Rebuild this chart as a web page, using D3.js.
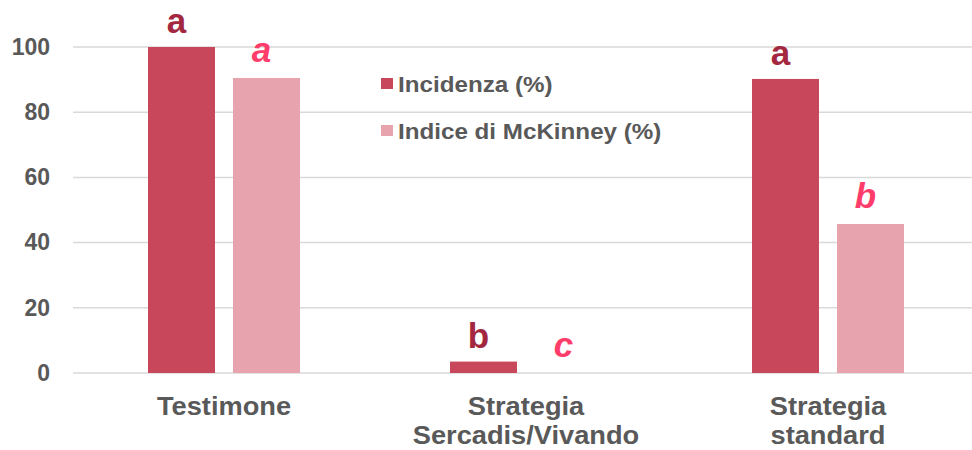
<!DOCTYPE html>
<html>
<head>
<meta charset="utf-8">
<script src="https://cdn.jsdelivr.net/npm/d3@7"></script>
<style>
  html, body { margin: 0; padding: 0; background: #fff; }
  svg { display: block; font-family: "Liberation Sans", Arial, sans-serif; }
</style>
</head>
<body>
<svg id="chart" width="972" height="450"></svg>
<script>
const categories = [["Testimone"], ["Strategia", "Sercadis/Vivando"], ["Strategia", "standard"]];
const categoryKeys = ["Testimone", "Strategia Sercadis/Vivando", "Strategia standard"];
const seriesNames = ["Incidenza (%)", "Indice di McKinney (%)"];
const incidenza = [100, 3.5, 90.2];
const mckinney = [90.5, 0, 45.7];
const lettersIncidenza = ["a", "b", "a"];
const lettersMckinney = ["a", "c", "b"];
const yTicks = [0, 20, 40, 60, 80, 100];

const barColors = ["#c9475a", "#e8a4ae"];
const letterColors = ["#a3283f", "#ff3d6a"];
const textGrey = "#595959";

const svg = d3.select("#chart");
const W = 972, H = 450;
const plot = { left: 73, right: 979, top: 47, bottom: 373 };

const y = d3.scaleLinear().domain([0, 100]).range([plot.bottom, plot.top]);
const x0 = d3.scaleBand().domain(categoryKeys).range([plot.left, plot.right]).padding(0);
const groupW = 152;
const x1 = d3.scaleBand().domain(seriesNames).range([0, groupW]).paddingInner(0.212).paddingOuter(0);

// gridlines
svg.append("g").selectAll("line").data(yTicks).join("line")
  .attr("x1", plot.left).attr("x2", W)
  .attr("y1", d => y(d)).attr("y2", d => y(d))
  .attr("stroke", "#d9d9d9").attr("stroke-width", 1.5);

// y axis labels
const yAxis = d3.axisLeft(y).tickValues(yTicks).tickSize(0).tickPadding(0);
const ya = svg.append("g").attr("transform", "translate(50,0)").call(yAxis);
ya.select(".domain").remove();
ya.selectAll("text").attr("fill", textGrey).attr("font-size", 23).attr("font-weight", "bold")
  .attr("font-family", "Liberation Sans, Arial, sans-serif");

const values = [incidenza, mckinney];
const letters = [lettersIncidenza, lettersMckinney];
const rows = [];
seriesNames.forEach((s, si) => {
  categoryKeys.forEach((c, ci) => {
    rows.push({ s, si, c, ci, v: values[si][ci], l: letters[si][ci] });
  });
});
const gx = c => x0(c) + (x0.bandwidth() - groupW) / 2;

svg.append("g").selectAll("rect").data(rows.filter(d => d.v > 0)).join("rect")
  .attr("x", d => gx(d.c) + x1(d.s))
  .attr("width", x1.bandwidth())
  .attr("y", d => y(d.v))
  .attr("height", d => y(0) - y(d.v))
  .attr("fill", d => barColors[d.si]);

svg.append("g").selectAll("text").data(rows).join("text")
  .attr("x", d => gx(d.c) + x1(d.s) + x1.bandwidth() / 2 - 5)
  .attr("y", d => y(d.v) - (d.si === 0 ? 14 : 16))
  .attr("text-anchor", "middle")
  .attr("font-size", 35)
  .attr("font-weight", "bold")
  .attr("font-style", d => d.si === 1 ? "italic" : "normal")
  .attr("fill", d => letterColors[d.si])
  .text(d => d.l);

// category labels (slightly widened like the reference)
const stretch = 1.09;
svg.append("g").selectAll("g").data(categoryKeys).join("g")
  .attr("transform", c => `translate(${x0(c) + x0.bandwidth() / 2},0) scale(${stretch},1)`)
  .each(function(c, i) {
    d3.select(this).selectAll("text").data(categories[i]).join("text")
      .attr("x", 0)
      .attr("y", (d, j) => 415 + j * 29)
      .attr("text-anchor", "middle")
      .attr("font-size", 25)
      .attr("font-weight", "bold")
      .attr("fill", textGrey)
      .text(d => d);
  });

// legend
const legend = svg.append("g").selectAll("g").data(seriesNames).join("g")
  .attr("transform", (d, i) => `translate(381,${78 + i * 47})`);
legend.append("rect").attr("width", 12).attr("height", 11)
  .attr("fill", (d, i) => barColors[i]);
legend.append("text")
  .attr("transform", "translate(17,14) scale(1.1,1)")
  .attr("font-size", 22).attr("font-weight", "bold").attr("fill", textGrey)
  .text(d => d);
</script>
</body>
</html>
